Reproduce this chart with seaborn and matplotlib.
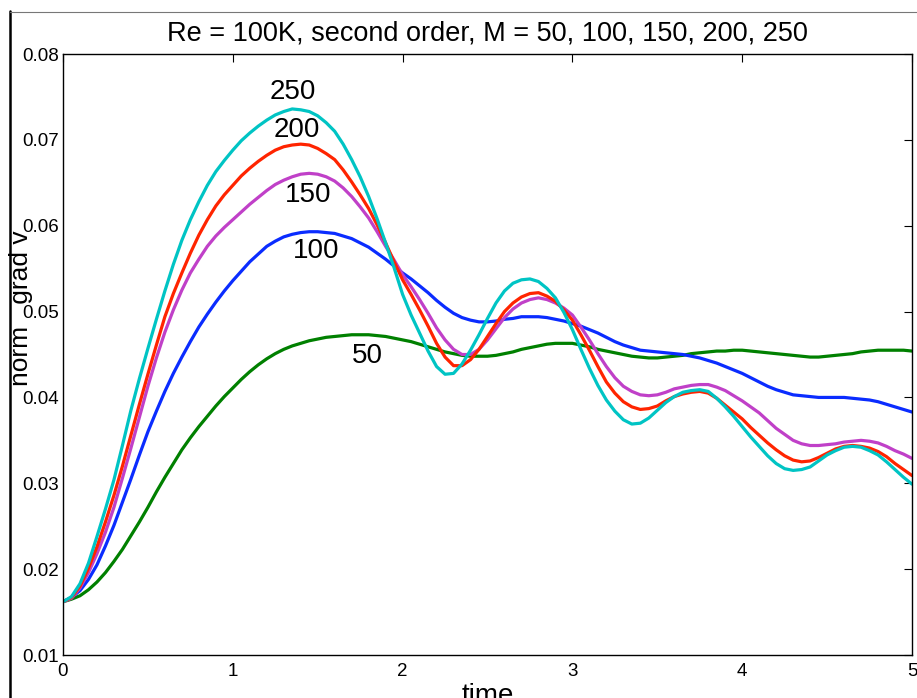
import numpy as np
import pandas as pd
import matplotlib
matplotlib.use("Agg")
import matplotlib.pyplot as plt
from matplotlib.lines import Line2D
import seaborn as sns

# time samples (0 to 5, step 0.05)
time = [i / 20 for i in range(101)]

grad_m50 = [
    0.0162, 0.0165, 0.0169, 0.0176, 0.0185, 0.0196, 0.0209, 0.0223, 0.0239, 0.0255,
    0.0272, 0.0290, 0.0307, 0.0323, 0.0339, 0.0353, 0.0366, 0.0378, 0.0390, 0.0401,
    0.0411, 0.0421, 0.0430, 0.0438, 0.0445, 0.0451, 0.0456, 0.0460, 0.0463, 0.0466,
    0.0468, 0.0470, 0.0471, 0.0472, 0.0473, 0.0473, 0.0473, 0.0472, 0.0471, 0.0469,
    0.0467, 0.0465, 0.0462, 0.0459, 0.0456, 0.0453, 0.0451, 0.0449, 0.0448, 0.0448,
    0.0448, 0.0449, 0.0451, 0.0453, 0.0456, 0.0458, 0.0460, 0.0462, 0.0463, 0.0463,
    0.0463, 0.0461, 0.0459, 0.0456, 0.0454, 0.0452, 0.0450, 0.0448, 0.0447, 0.0446,
    0.0446, 0.0447, 0.0448, 0.0449, 0.0451, 0.0452, 0.0453, 0.0454, 0.0454, 0.0455,
    0.0455, 0.0454, 0.0453, 0.0452, 0.0451, 0.0450, 0.0449, 0.0448, 0.0447, 0.0447,
    0.0448, 0.0449, 0.0450, 0.0451, 0.0453, 0.0454, 0.0455, 0.0455, 0.0455, 0.0455,
    0.0454]
grad_m100 = [
    0.0162, 0.0167, 0.0175, 0.0188, 0.0205, 0.0227, 0.0251, 0.0278, 0.0305, 0.0333,
    0.0360, 0.0384, 0.0407, 0.0428, 0.0447, 0.0465, 0.0482, 0.0497, 0.0511, 0.0524,
    0.0536, 0.0547, 0.0558, 0.0567, 0.0576, 0.0582, 0.0587, 0.0590, 0.0592, 0.0593,
    0.0593, 0.0592, 0.0591, 0.0588, 0.0585, 0.0580, 0.0575, 0.0568, 0.0561, 0.0553,
    0.0545, 0.0538, 0.0530, 0.0522, 0.0513, 0.0505, 0.0498, 0.0493, 0.0490, 0.0488,
    0.0488, 0.0489, 0.0491, 0.0492, 0.0494, 0.0494, 0.0494, 0.0493, 0.0491, 0.0489,
    0.0486, 0.0483, 0.0479, 0.0475, 0.0470, 0.0465, 0.0461, 0.0458, 0.0455, 0.0454,
    0.0453, 0.0452, 0.0451, 0.0450, 0.0448, 0.0446, 0.0443, 0.0440, 0.0436, 0.0432,
    0.0428, 0.0423, 0.0418, 0.0413, 0.0409, 0.0406, 0.0403, 0.0402, 0.0401, 0.0400,
    0.0400, 0.0400, 0.0400, 0.0399, 0.0398, 0.0397, 0.0395, 0.0392, 0.0389, 0.0386,
    0.0383]
grad_m150 = [
    0.0162, 0.0166, 0.0178, 0.0196, 0.0218, 0.0243, 0.0272, 0.0306, 0.0341, 0.0377,
    0.0413, 0.0446, 0.0476, 0.0502, 0.0525, 0.0545, 0.0561, 0.0576, 0.0588, 0.0598,
    0.0607, 0.0616, 0.0625, 0.0633, 0.0641, 0.0648, 0.0653, 0.0657, 0.0660, 0.0661,
    0.0660, 0.0657, 0.0652, 0.0644, 0.0634, 0.0622, 0.0609, 0.0593, 0.0576, 0.0560,
    0.0543, 0.0529, 0.0514, 0.0498, 0.0481, 0.0467, 0.0456, 0.0450, 0.0450, 0.0456,
    0.0467, 0.0480, 0.0493, 0.0503, 0.0510, 0.0514, 0.0516, 0.0514, 0.0510, 0.0504,
    0.0496, 0.0482, 0.0467, 0.0451, 0.0436, 0.0423, 0.0413, 0.0407, 0.0403, 0.0402,
    0.0403, 0.0406, 0.0410, 0.0412, 0.0414, 0.0415, 0.0415, 0.0412, 0.0408, 0.0402,
    0.0396, 0.0389, 0.0382, 0.0373, 0.0364, 0.0357, 0.0350, 0.0346, 0.0344, 0.0344,
    0.0345, 0.0346, 0.0348, 0.0349, 0.0350, 0.0349, 0.0347, 0.0343, 0.0338, 0.0334,
    0.0329]
grad_m200 = [
    0.0162, 0.0167, 0.0180, 0.0201, 0.0226, 0.0255, 0.0286, 0.0320, 0.0356, 0.0392,
    0.0427, 0.0461, 0.0494, 0.0521, 0.0545, 0.0568, 0.0589, 0.0607, 0.0623, 0.0636,
    0.0647, 0.0658, 0.0667, 0.0675, 0.0682, 0.0688, 0.0692, 0.0694, 0.0695, 0.0694,
    0.0690, 0.0684, 0.0677, 0.0665, 0.0651, 0.0636, 0.0620, 0.0601, 0.0580, 0.0558,
    0.0537, 0.0520, 0.0502, 0.0483, 0.0463, 0.0447, 0.0437, 0.0437, 0.0444, 0.0456,
    0.0471, 0.0486, 0.0500, 0.0510, 0.0517, 0.0521, 0.0522, 0.0518, 0.0512, 0.0502,
    0.0490, 0.0473, 0.0455, 0.0436, 0.0418, 0.0405, 0.0395, 0.0389, 0.0386, 0.0387,
    0.0390, 0.0396, 0.0401, 0.0404, 0.0406, 0.0407, 0.0405, 0.0399, 0.0391, 0.0383,
    0.0375, 0.0365, 0.0356, 0.0347, 0.0339, 0.0332, 0.0327, 0.0325, 0.0326, 0.0330,
    0.0335, 0.0340, 0.0343, 0.0344, 0.0343, 0.0341, 0.0337, 0.0331, 0.0323, 0.0316,
    0.0309]
grad_m250 = [
    0.0162, 0.0168, 0.0183, 0.0207, 0.0238, 0.0270, 0.0304, 0.0344, 0.0385, 0.0422,
    0.0457, 0.0491, 0.0524, 0.0555, 0.0583, 0.0607, 0.0628, 0.0647, 0.0663, 0.0676,
    0.0688, 0.0699, 0.0708, 0.0716, 0.0723, 0.0729, 0.0733, 0.0736, 0.0735, 0.0733,
    0.0728, 0.0720, 0.0710, 0.0695, 0.0677, 0.0657, 0.0634, 0.0608, 0.0580, 0.0551,
    0.0520, 0.0496, 0.0475, 0.0454, 0.0436, 0.0427, 0.0428, 0.0439, 0.0455, 0.0473,
    0.0492, 0.0510, 0.0524, 0.0533, 0.0537, 0.0538, 0.0535, 0.0527, 0.0516, 0.0499,
    0.0479, 0.0456, 0.0434, 0.0414, 0.0397, 0.0384, 0.0374, 0.0369, 0.0370, 0.0376,
    0.0385, 0.0394, 0.0401, 0.0406, 0.0408, 0.0409, 0.0407, 0.0399, 0.0389, 0.0378,
    0.0366, 0.0354, 0.0343, 0.0332, 0.0323, 0.0317, 0.0315, 0.0316, 0.0319, 0.0326,
    0.0333, 0.0338, 0.0342, 0.0343, 0.0342, 0.0338, 0.0333, 0.0325, 0.0316, 0.0307,
    0.0299]

m_values = [50, 100, 150, 200, 250]
series = [grad_m50, grad_m100, grad_m150, grad_m200, grad_m250]
colors = {50: "#008000", 100: "#0a2cff", 150: "#c040c8", 200: "#ff2400", 250: "#00c4c4"}

# curve labels: text, x, y
label_text = ["250", "200", "150", "100", "50"]
label_x = [1.355, 1.375, 1.445, 1.49, 1.795]
label_y = [0.0756, 0.0711, 0.0636, 0.0570, 0.0448]

x_ticks = [0, 1, 2, 3, 4, 5]
y_ticks = [0.01, 0.02, 0.03, 0.04, 0.05, 0.06, 0.07, 0.08]
y_ticklabels = ["0.01", "0.02", "0.03", "0.04", "0.05", "0.06", "0.07", "0.08"]

df = pd.DataFrame({
    "time": np.tile(time, len(m_values)),
    "grad": np.concatenate(series),
    "M": np.repeat(m_values, len(time)),
})

sns.set_style("white")
plt.rcParams["font.family"] = ["Liberation Sans", "DejaVu Sans"]
plt.rcParams["text.color"] = "black"
plt.rcParams["axes.labelcolor"] = "black"
plt.rcParams["xtick.color"] = "black"
plt.rcParams["ytick.color"] = "black"
plt.rcParams["xtick.direction"] = "in"
plt.rcParams["ytick.direction"] = "in"

fig = plt.figure(figsize=(9.17, 6.98), dpi=100)
ax = fig.add_axes([63 / 917, 1 - 655 / 698, (912 - 63) / 917, (655 - 54) / 698])

sns.lineplot(data=df, x="time", y="grad", hue="M", palette=colors,
             estimator=None, sort=False, linewidth=2.3, legend=False, ax=ax)
for ln in ax.get_lines():
    ln.set_solid_joinstyle("round")

for txt, lx, ly in zip(label_text, label_x, label_y):
    ax.text(lx, ly, txt, fontsize=20, ha="center", va="center", color="black")

ax.set_xlim(0, 5)
ax.set_ylim(0.01, 0.08)
ax.set_xticks(x_ticks)
ax.set_xticklabels([str(v) for v in x_ticks])
ax.set_yticks(y_ticks)
ax.set_yticklabels(y_ticklabels)
ax.tick_params(axis="both", which="both", direction="in", length=6, width=0.8,
               top=True, right=True, labelsize=13.5, color="black")
ax.tick_params(axis="x", pad=6)
ax.tick_params(axis="y", pad=3)
for s in ax.spines.values():
    s.set_color("black")
    s.set_linewidth(1.0)

ax.set_title("Re = 100K, second order, M = 50, 100, 150, 200, 250", fontsize=19.5,
             pad=10, color="black")
ax.set_xlabel("time", fontsize=20, labelpad=2)
ax.set_ylabel("norm   grad v", fontsize=19)
ax.yaxis.set_label_coords(-0.035, 0.577)

# outer frame edges
fig.add_artist(Line2D([10 / 917, 10 / 917], [0, 1 - 11 / 698], color="black", linewidth=1.8,
                      transform=fig.transFigure))
fig.add_artist(Line2D([10 / 917, 1], [1 - 12 / 698, 1 - 12 / 698], color="#777777", linewidth=0.8,
                      transform=fig.transFigure))

fig.savefig("out.png", dpi=100)
